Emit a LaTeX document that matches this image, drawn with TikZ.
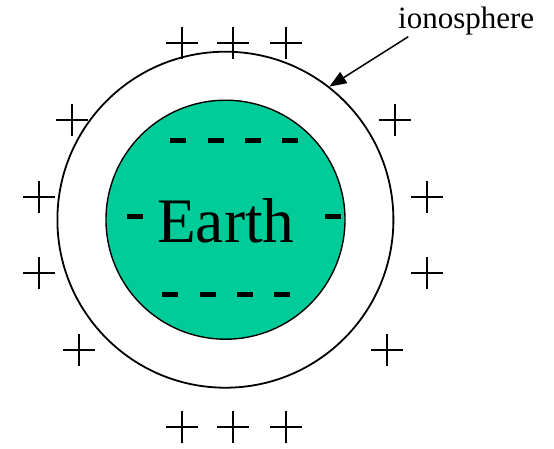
\documentclass[tikz,border=0pt]{standalone}
\usepackage{fontspec}
\setmainfont{Liberation Serif}
\usetikzlibrary{arrows.meta}
\definecolor{earthgreen}{RGB}{0,204,153}
\tikzset{
  plusline/.style={line width=2pt},
  dashbar/.style={fill=black},
  ring/.style={circle, draw, inner sep=0pt, line width=1.8pt},
  globe/.style={circle, draw, fill=earthgreen, inner sep=0pt, line width=1.4pt},
  pointer/.style={line width=1.5pt, -{Triangle[length=17pt,width=13pt]}}
}
\begin{document}
\begin{tikzpicture}[x=1pt,y=-1pt]
\useasboundingbox (0,0) rectangle (554,448);
% ionosphere and Earth
\node[ring, minimum size=336pt] (iono) at (225.4,219.7) {};
\node[globe, minimum size=239pt] (earth) at (225.5,219.7) {};
\node[anchor=base, inner sep=0pt, font=\fontsize{63.4}{63.4}\selectfont] (earthtxt) at (225.8,242.7) {Earth};
% negative charges
\foreach \a/\b/\y in {170/186/140.3, 207.7/223.7/140.3, 245/261/140.3, 282/298/140.3,
                      162/178/294.3, 200/216/294.3, 237/253/294.3, 274/290/294.3,
                      127.3/143.3/216.7, 325/340.7/216.7}
  \fill[dashbar] (\a,\y-2.7) rectangle (\b,\y+2.7);
% positive charges
\foreach \x/\y in {181.7/43.3, 233.3/43.3, 285.7/43.3,
                   181.7/427.3, 233.3/427.3, 285.7/427.3,
                   71.7/120, 39/196.7, 39/273.3, 79.3/350,
                   395.3/120, 427.3/196.7, 427.3/273.3, 387.3/350}
  \draw[plusline] (\x-16,\y) -- (\x+16,\y) (\x,\y-16) -- (\x,\y+16);
% label
\node[anchor=base west, inner sep=0pt, font=\fontsize{31}{31}\selectfont] (label) at (398,28) {ionosphere};
\coordinate (tail) at (408.3,36.7);
\draw[pointer] (tail) -- (iono.52.6);
\end{tikzpicture}
\end{document}
